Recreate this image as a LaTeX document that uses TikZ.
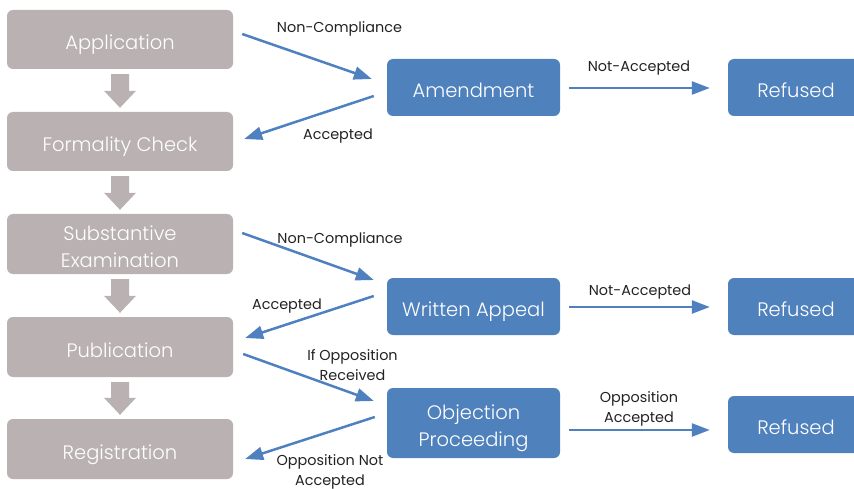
\documentclass[tikz,border=0pt]{standalone}
\usepackage{fontspec}
\setmainfont{Poppins}
\newfontfamily\boxfont{Poppins}[UprightFont=* Light]
\usetikzlibrary{arrows.meta,calc}
\definecolor{boxgray}{HTML}{B9B1B2}
\definecolor{boxblue}{HTML}{4F81BD}
\definecolor{arrblue}{HTML}{4F80C0}
\definecolor{lbl}{HTML}{222222}
\tikzset{
  graybox/.style={draw=none,fill=boxgray,rounded corners=6pt,minimum width=226pt,minimum height=59pt,text=white,font=\boxfont\fontsize{19.5}{27.3}\selectfont,align=center,inner sep=0pt,text height=20.4pt,text depth=0pt},
  twoline/.style={text height=46.6pt,text depth=0pt},
  bluebox/.style={graybox,fill=boxblue,minimum width=173pt,minimum height=57pt},
  refbox/.style={bluebox,minimum width=136pt},
  lab/.style={text=lbl,font=\fontsize{14.4}{19.3}\selectfont,align=center,inner sep=0pt},
  conn/.style={draw=arrblue,line width=2.5pt,-{Triangle[length=18pt,width=13pt]}},
}
\begin{document}
\begin{tikzpicture}[x=1pt,y=-1pt]
\useasboundingbox (0,0) rectangle (854,489);
\clip (0,0) rectangle (854,489);
% gray column
\node[graybox] (app) at (120,39.5) {Application};
\node[graybox] (form) at (120,141.5) {Formality Check};
\node[graybox,twoline,minimum height=60pt] (subst) at (120,244) {Substantive\\Examination};
\node[graybox,minimum height=60pt] (pub) at (120,347) {Publication};
\node[graybox,minimum height=60pt] (reg) at (120,449) {Registration};
% blue boxes
\node[bluebox] (amd) at (473.5,87.5) {Amendment};
\node[bluebox] (wa) at (473.5,306.5) {Written Appeal};
\node[bluebox,twoline,minimum height=70pt] (obj) at (473.5,423) {Objection\\Proceeding};
\node[refbox] (ref1) at (796,87.5) {Refused};
\node[refbox] (ref2) at (796,306.5) {Refused};
\node[refbox] (ref3) at (796,424.5) {Refused};
% block arrows
\foreach \a/\b in {app/form,form/subst,subst/pub,pub/reg}{
  \fill[boxgray] ($(\a.south)+(-9,5)$) -- ($(\a.south)+(9,5)$) -- ($(\b.north)+(9,-21)$) -- ($(\b.north)+(16,-21)$) -- ($(\b.north)+(0,-4)$) -- ($(\b.north)+(-16,-21)$) -- ($(\b.north)+(-9,-21)$) -- cycle;
}
% connectors
\draw[conn] ($(app.east)+(9,-5.5)$) -- ($(amd.west)+(-15,-8.5)$);
\draw[conn] ($(amd.west)+(-13,8.5)$) -- ($(form.east)+(11,-2.5)$);
\draw[conn] ($(amd.east)+(9,0.5)$) -- ($(ref1.west)+(-18,0.5)$);
\draw[conn] ($(subst.east)+(9,-11)$) -- ($(wa.west)+(-13,-26.5)$);
\draw[conn] ($(wa.west)+(-13,-10.5)$) -- ($(pub.east)+(12,-9)$);
\draw[conn] ($(wa.east)+(9,0.5)$) -- ($(ref2.west)+(-18,0.5)$);
\draw[conn] ($(pub.east)+(10,7)$) -- ($(obj.west)+(-13,-22)$);
\draw[conn] ($(obj.west)+(-12,-6)$) -- ($(reg.east)+(12,10)$);
\draw[conn] ($(obj.east)+(9,7)$) -- ($(ref3.west)+(-18,5.5)$);
% labels
\node[lab] (l1) at (339.5,28.5) {Non-Compliance};
\node[lab] (l2) at (338,136.5) {Accepted};
\node[lab] (l3) at (639,68.5) {Not-Accepted};
\node[lab] (l4) at (340,239.5) {Non-Compliance};
\node[lab] (l5) at (287,306) {Accepted};
\node[lab] (l6) at (352.5,365) {If Opposition\\Received};
\node[lab] (l7) at (330,472) {Opposition Not\\Accepted};
\node[lab] (l8) at (640,292.5) {Not-Accepted};
\node[lab] (l9) at (639,409) {Opposition\\Accepted};
\end{tikzpicture}
\end{document}
